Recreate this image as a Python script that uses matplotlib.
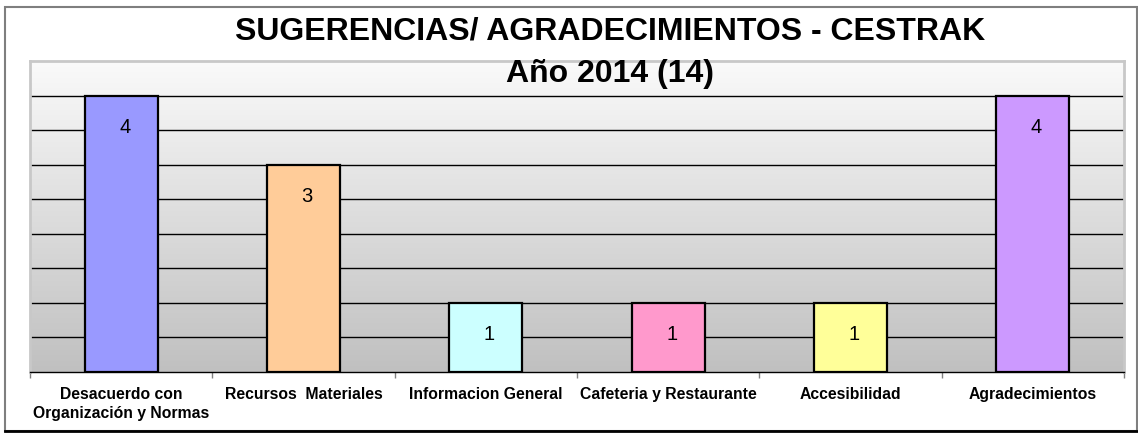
import numpy as np
import matplotlib
matplotlib.use("Agg")
import matplotlib.pyplot as plt
from matplotlib.patches import Rectangle
from matplotlib.colors import LinearSegmentedColormap

categories = ["Desacuerdo con\nOrganización y Normas", "Recursos  Materiales",
              "Informacion General", "Cafeteria y Restaurante",
              "Accesibilidad", "Agradecimientos"]
values = [4, 3, 1, 1, 1, 4]
colors = ["#9999FF", "#FFCC99", "#CCFFFF", "#FF99CC", "#FFFF99", "#CC99FF"]
title1 = "SUGERENCIAS/ AGRADECIMIENTOS - CESTRAK"
title2 = "Año 2014 (14)"

plt.rcParams['font.family'] = ['Liberation Sans', 'DejaVu Sans']

W, H = 1138, 435
fig = plt.figure(figsize=(W / 100, H / 100), dpi=100)
fig.patch.set_facecolor("white")

# outer chart border
fig.add_artist(Rectangle((5 / W, 3 / H), (1132 / W), (424 / H), transform=fig.transFigure,
                         fill=False, edgecolor="#7f7f7f", linewidth=1.5))
fig.add_artist(plt.Line2D([5 / W, 1137 / W], [3 / H, 3 / H], transform=fig.transFigure,
                          color="black", linewidth=2))

left, right, top, bottom = 30, 1124, 62, 373
ax = fig.add_axes([left / W, (H - bottom) / H, (right - left) / W, (bottom - top) / H])

# gradient background
grad = np.linspace(0, 1, 256).reshape(-1, 1)
cmap = LinearSegmentedColormap.from_list("bg", ["#FAFAFA", "#C0C0C0"])
ax.imshow(grad, extent=[0, 1, 0, 1], transform=ax.transAxes, cmap=cmap,
          aspect="auto", zorder=0, origin="upper")

x = np.arange(len(categories))
ax.set_xlim(-0.5, len(categories) - 0.5)
ax.set_ylim(0, 4.5)
for yv in np.arange(0.5, 4.5, 0.5):
    ax.axhline(yv, color="black", linewidth=1, zorder=1)

ax.bar(x, values, width=0.4, color=colors, edgecolor="black", linewidth=1.6, zorder=2)

for xi, v in zip(x, values):
    ax.annotate(str(v), (xi, v), xytext=(2.5, -22), textcoords="offset points",
                ha="center", va="center", fontsize=14.5, color="black", zorder=3)

ax.set_yticks([])
ax.set_xticks(x)
ax.set_xticklabels(categories, fontsize=11.3, fontweight="bold", linespacing=1.35)
ax.tick_params(axis="x", which="major", length=0, pad=10)
ax.set_xticks(np.arange(-0.5, len(categories), 1.0), minor=True)
ax.tick_params(axis="x", which="minor", length=4, color="#808080", width=1)

for s in ["top", "right", "left"]:
    ax.spines[s].set_color("#C8C8C8")
    ax.spines[s].set_linewidth(2)
ax.spines["bottom"].set_color("black")
ax.spines["bottom"].set_linewidth(1)

fig.text(610 / W, 1 - 32 / H, title1, ha="center", va="center", fontsize=23, fontweight="bold")
fig.text(610 / W, 1 - 74 / H, title2, ha="center", va="center", fontsize=23, fontweight="bold")

fig.savefig("out.png", dpi=100)
